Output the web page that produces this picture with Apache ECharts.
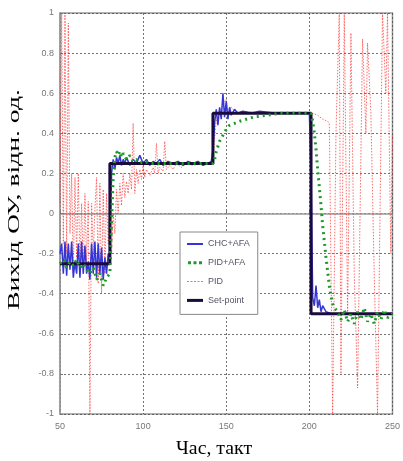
<!DOCTYPE html>
<html>
<head>
<meta charset="utf-8">
<script src="https://cdn.jsdelivr.net/npm/echarts@6/dist/echarts.min.js"></script>
<style>
  html, body { margin: 0; padding: 0; background: #fff; }
  #chart { width: 403px; height: 461px; }
</style>
</head>
<body>
<div id="chart"></div>
<script>
// Time axis ticks (тактів) and output ticks (відн. од.)
const xTicks = [50, 100, 150, 200, 250];
const yTicks = [-1, -0.8, -0.6, -0.4, -0.2, 0, 0.2, 0.4, 0.6, 0.8, 1];
const seriesNames = ['CHC+AFA', 'PID+AFA', 'PID', 'Set-point'];

// Reference trajectory: [takt, value]
const setPoint = [[50,-0.25],[80,-0.25],[80,0.25],[142,0.25],[142,0.5],[201,0.5],[201,-0.5],[250,-0.5]];

// CHC+AFA controller response
const chcAfa = [
  [50,-0.2],[51,-0.15],[52,-0.3],[53,-0.14],[54,-0.31],[55,-0.15],[56,-0.28],[57,-0.14],[58,-0.32],[59,-0.24],
  [60,-0.3],[61,-0.15],[62,-0.32],[63,-0.14],[64,-0.3],[65,-0.16],[66,-0.3],[67,-0.24],[68,-0.33],[69,-0.15],
  [70,-0.3],[71,-0.14],[72,-0.32],[73,-0.15],[74,-0.3],[75,-0.17],[76,-0.33],[77,-0.22],[78,-0.3],[79,-0.2],[80,-0.25],
  [81,0.2],[82,0.27],[83,0.22],[84,0.28],[85,0.25],[86,0.29],[87,0.24],[88,0.27],[89,0.25],[90,0.28],[92,0.24],
  [94,0.27],[96,0.25],[98,0.29],[100,0.25],[102,0.27],[104,0.24],[106,0.26],[108,0.25],[110,0.27],[112,0.24],
  [115,0.26],[118,0.25],[121,0.26],[124,0.24],[127,0.26],[130,0.25],[133,0.26],[136,0.24],[139,0.25],[141,0.26],
  [142,0.32],[143,0.45],[144,0.52],[145,0.44],[146,0.53],[147,0.47],[148,0.6],[149,0.48],[150,0.56],[151,0.47],
  [152,0.53],[153,0.49],[155,0.52],[157,0.5],[160,0.51],[165,0.5],[170,0.51],[180,0.5],[190,0.5],[200,0.5],
  [201,0.2],[202,-0.42],[203,-0.46],[204,-0.36],[205,-0.47],[206,-0.43],[207,-0.49],[208,-0.46],[210,-0.49],[213,-0.5],[250,-0.5]
];

// PID+AFA controller response
const pidAfa = [
  [50,-0.25],[52,-0.23],[54,-0.27],[56,-0.24],[58,-0.26],[60,-0.23],[62,-0.27],[64,-0.25],[66,-0.28],[68,-0.3],
  [70,-0.27],[72,-0.33],[74,-0.3],[76,-0.36],[78,-0.32],[80,-0.3],[81,-0.05],[82,0.18],[83,0.28],[84,0.31],
  [85,0.29],[86,0.31],[87,0.28],[88,0.3],[90,0.27],[92,0.29],[94,0.26],[96,0.27],[98,0.25],[100,0.26],
  [105,0.25],[110,0.25],[120,0.25],[130,0.25],[142,0.25],[143,0.27],[144,0.31],[146,0.36],[148,0.39],[150,0.42],
  [152,0.44],[155,0.45],[158,0.46],[162,0.47],[166,0.48],[170,0.485],[175,0.49],[182,0.5],[201,0.5],[202,0.46],
  [203,0.4],[204,0.32],[205,0.22],[206,0.13],[207,0.04],[208,-0.06],[209,-0.14],[210,-0.22],[211,-0.29],[212,-0.36],
  [213,-0.41],[214,-0.45],[215,-0.47],[217,-0.49],[219,-0.53],[221,-0.48],[223,-0.54],[225,-0.5],[227,-0.55],
  [229,-0.49],[231,-0.53],[233,-0.47],[235,-0.54],[237,-0.5],[239,-0.55],[241,-0.49],[243,-0.53],[245,-0.48],
  [247,-0.52],[250,-0.5]
];

// Plain PID controller response
const pid = [
  [50,0.05],[51,1],[52,-0.15],[53,1],[54,-0.2],[55,0.95],[56,-0.1],[57,0.2],[58,-0.3],[59,0.18],
  [60,-0.22],[61,0.2],[62,-0.28],[63,0.05],[64,-0.3],[65,0.1],[66,-0.25],[67,0.06],[68,-1],[69,0.05],
  [70,-0.2],[71,0.02],[72,0.18],[73,-0.35],[74,0.15],[75,-0.4],[76,0.12],[77,-0.3],[78,0.1],[79,-0.15],[80,0.05],
  [81,-0.2],[82,0.0],[83,-0.1],[84,0.12],[85,0.0],[86,0.15],[87,0.04],[88,0.2],[89,0.08],[90,0.16],
  [91,0.1],[92,0.2],[93,0.12],[94,0.45],[95,0.1],[96,0.22],[97,0.15],[98,0.22],[99,0.17],[100,0.24],
  [101,0.18],[102,0.22],[104,0.19],[106,0.23],[107,0.2],[108,0.35],[109,0.2],[110,0.23],[112,0.21],[113,0.36],
  [114,0.22],[116,0.24],[118,0.22],[120,0.25],[123,0.23],[126,0.25],[130,0.24],[135,0.25],[140,0.25],[142,0.26],
  [143,0.38],[144,0.46],[146,0.5],[148,0.54],[150,0.57],[151,0.5],[153,0.53],[156,0.5],[160,0.51],[170,0.5],
  [180,0.5],[190,0.5],[200,0.5],[202,0.5],[205,0.49],[208,0.47],[211,0.46],[212,0.45],[214,-1],[216,0.4],
  [218,1],[219,-0.8],[221,1],[223,-0.5],[225,0.9],[227,-0.3],[229,-0.87],[232,0.87],[234,0.4],[235,0.85],
  [237,0.5],[239,-0.3],[241,-1],[244,1],[246,0.6],[247,1],[249,-0.2],[250,0.4]
];

const colors = { chc: '#3535d6', pidAfa: '#1f9a2a', pid: '#ff3a3a', sp: '#1a0b3d' };

// Legend glyphs in a 16x12 box (the leading moves pin the box size)
const box = 'M0,0 M16,12 ';
const iconSolid = box + 'M0,5 L16,5 L16,7 L0,7 Z';
const iconDots = box + 'M1,4.5 L4,4.5 L4,7.5 L1,7.5 Z M6.5,4.5 L9.5,4.5 L9.5,7.5 L6.5,7.5 Z M12,4.5 L15,4.5 L15,7.5 L12,7.5 Z';
const iconDash = box + 'M0,5.5 L2,5.5 L2,6.5 L0,6.5 Z M3.5,5.5 L5.5,5.5 L5.5,6.5 L3.5,6.5 Z M7,5.5 L9,5.5 L9,6.5 L7,6.5 Z M10.5,5.5 L12.5,5.5 L12.5,6.5 L10.5,6.5 Z M14,5.5 L16,5.5 L16,6.5 L14,6.5 Z';
const iconThick = box + 'M0,4.5 L16,4.5 L16,7.5 L0,7.5 Z';

const gridLine = { show: true, lineStyle: { color: '#444', width: 1, type: [2, 2], opacity: 0.75 } };
const tickLabel = { color: '#777', fontSize: 9, fontFamily: 'Liberation Sans, Arial, sans-serif' };

const chart = echarts.init(document.getElementById('chart'), null, { renderer: 'canvas' });
chart.setOption({
  animation: false,
  backgroundColor: '#fff',
  grid: { left: 60, right: 9, top: 13, bottom: 47, show: true, borderColor: '#999', borderWidth: 1.5 },
  xAxis: {
    type: 'value', min: xTicks[0], max: xTicks[xTicks.length - 1], interval: 50,
    axisLine: { show: true, lineStyle: { color: '#999', width: 1.5 } },
    axisTick: { show: true, inside: true, length: 3, lineStyle: { color: '#777' } },
    axisLabel: Object.assign({ margin: 8 }, tickLabel),
    splitLine: gridLine
  },
  yAxis: {
    type: 'value', min: yTicks[0], max: yTicks[yTicks.length - 1], interval: 0.2,
    axisLine: { show: true, lineStyle: { color: '#999', width: 1.5 } },
    axisTick: { show: true, inside: true, length: 3, lineStyle: { color: '#777' } },
    axisLabel: Object.assign({
      margin: 6,
      formatter: v => String(Math.round(v * 10) / 10)
    }, tickLabel),
    splitLine: gridLine
  },
  legend: {
    orient: 'vertical', left: 180, top: 232,
    padding: [6, 8, 8, 7], itemGap: 6.8, itemWidth: 16, itemHeight: 12,
    backgroundColor: '#fff', borderColor: '#888', borderWidth: 1,
    textStyle: { color: '#556', fontSize: 9, fontFamily: 'Liberation Sans, Arial, sans-serif' },
    data: [
      { name: seriesNames[0], icon: 'path://' + iconSolid },
      { name: seriesNames[1], icon: 'path://' + iconDots },
      { name: seriesNames[2], icon: 'path://' + iconDash },
      { name: seriesNames[3], icon: 'path://' + iconThick }
    ]
  },
  series: [
    {
      name: seriesNames[0], type: 'line', data: chcAfa, symbol: 'none', z: 3,
      lineStyle: { color: colors.chc, width: 1.5 }, itemStyle: { color: colors.chc }
    },
    {
      name: seriesNames[1], type: 'line', data: pidAfa, symbol: 'none', z: 5,
      lineStyle: { color: colors.pidAfa, width: 3, type: [2, 4] }, itemStyle: { color: colors.pidAfa }
    },
    {
      name: seriesNames[2], type: 'line', data: pid, symbol: 'none', z: 2,
      lineStyle: { color: colors.pid, width: 1, type: [1.5, 1.5], opacity: 0.75 }, itemStyle: { color: colors.pid, opacity: 0.75 }
    },
    {
      name: seriesNames[3], type: 'line', data: setPoint, symbol: 'none', z: 4,
      lineStyle: { color: colors.sp, width: 3 }, itemStyle: { color: colors.sp }
    }
  ],
  graphic: [
    {
      type: 'text', left: 176, top: 440, scaleX: 1.1,
      style: { text: 'Час, такт', fill: '#000', font: '18px "Liberation Serif", "Times New Roman", serif' }
    },
    {
      type: 'text', x: 6, y: 310, rotation: Math.PI / 2, scaleX: 1.63,
      style: { text: 'Вихід ОУ, відн. од.', fill: '#000', font: '17px "Liberation Serif", "Times New Roman", serif' }
    }
  ]
});
</script>
</body>
</html>
